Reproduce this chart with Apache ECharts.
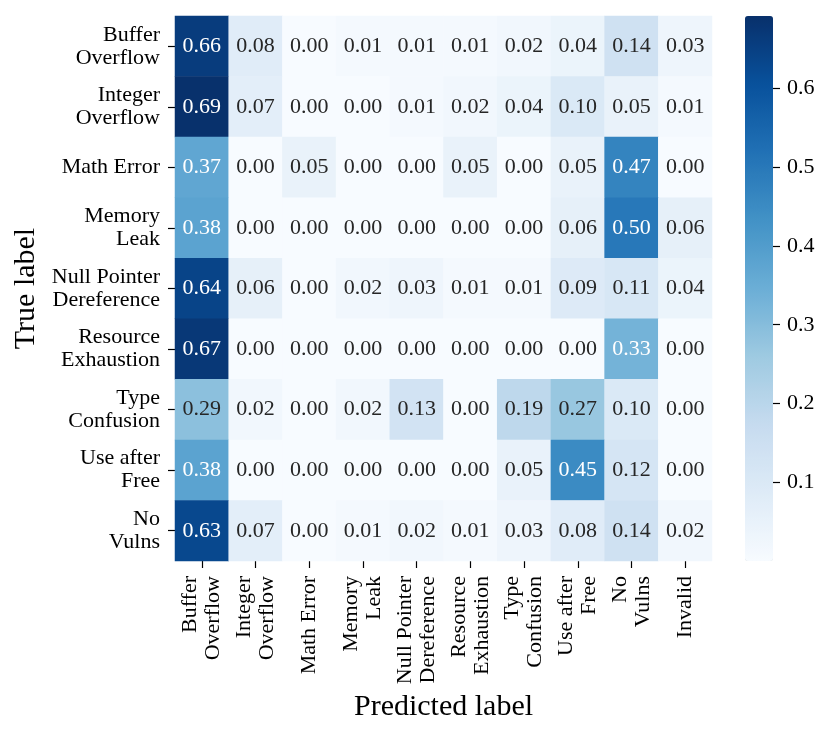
<!DOCTYPE html>
<html>
<head>
<meta charset="utf-8">
<script src="https://cdn.jsdelivr.net/npm/echarts@6/dist/echarts.min.js"></script>
<style>
html, body { margin: 0; padding: 0; background: #fff; }
#chart { width: 831px; height: 736px; }
</style>
</head>
<body>
<div id="chart"></div>
<script>
// confusion matrix: rows = true label, cols = predicted label
var trueLabels = ['Buffer\nOverflow', 'Integer\nOverflow', 'Math Error', 'Memory\nLeak',
    'Null Pointer\nDereference', 'Resource\nExhaustion', 'Type\nConfusion', 'Use after\nFree', 'No\nVulns'];
var predLabels = ['Buffer\nOverflow', 'Integer\nOverflow', 'Math Error', 'Memory\nLeak',
    'Null Pointer\nDereference', 'Resource\nExhaustion', 'Type\nConfusion', 'Use after\nFree', 'No\nVulns', 'Invalid'];

var rowBufferOverflow = [0.66, 0.08, 0.00, 0.01, 0.01, 0.01, 0.02, 0.04, 0.14, 0.03];
var rowIntegerOverflow = [0.69, 0.07, 0.00, 0.00, 0.01, 0.02, 0.04, 0.10, 0.05, 0.01];
var rowMathError = [0.37, 0.00, 0.05, 0.00, 0.00, 0.05, 0.00, 0.05, 0.47, 0.00];
var rowMemoryLeak = [0.38, 0.00, 0.00, 0.00, 0.00, 0.00, 0.00, 0.06, 0.50, 0.06];
var rowNullPointer = [0.64, 0.06, 0.00, 0.02, 0.03, 0.01, 0.01, 0.09, 0.11, 0.04];
var rowResource = [0.67, 0.00, 0.00, 0.00, 0.00, 0.00, 0.00, 0.00, 0.33, 0.00];
var rowTypeConfusion = [0.29, 0.02, 0.00, 0.02, 0.13, 0.00, 0.19, 0.27, 0.10, 0.00];
var rowUseAfterFree = [0.38, 0.00, 0.00, 0.00, 0.00, 0.00, 0.05, 0.45, 0.12, 0.00];
var rowNoVulns = [0.63, 0.07, 0.00, 0.01, 0.02, 0.01, 0.03, 0.08, 0.14, 0.02];

var matrix = [rowBufferOverflow, rowIntegerOverflow, rowMathError, rowMemoryLeak,
    rowNullPointer, rowResource, rowTypeConfusion, rowUseAfterFree, rowNoVulns];

var colorMin = 0;
var colorMax = 0.692;
var colorTicks = [0.1, 0.2, 0.3, 0.4, 0.5, 0.6];
// matplotlib "Blues"
var blues = ['#f7fbff', '#deebf7', '#c6dbef', '#9ecae1', '#6baed6', '#4292c6', '#2171b5', '#08519c', '#08306b'];

var font = 'Liberation Serif';

var cells = [];
matrix.forEach(function(row, i) {
    row.forEach(function(v, j) {
        cells.push({
            value: [j, i, v],
            label: { color: v > 0.3 ? '#ffffff' : '#262626' }
        });
    });
});

var chart = echarts.init(document.getElementById('chart'));
chart.setOption({
    animation: false,
    textStyle: { fontFamily: font },
    grid: [
        { left: 175, top: 16, width: 537, height: 545 },
        { left: 745, top: 16, width: 28, height: 545 }
    ],
    xAxis: [{
        gridIndex: 0,
        type: 'category',
        data: predLabels,
        position: 'bottom',
        axisLine: { show: false },
        axisTick: { show: true, alignWithLabel: true, length: 7, lineStyle: { color: '#000', width: 1.2 } },
        axisLabel: { rotate: 90, margin: 15, fontSize: 22, lineHeight: 23, color: '#000', fontFamily: font, interval: 0 },
        splitLine: { show: false },
        name: 'Predicted label',
        nameLocation: 'middle',
        nameGap: 126,
        nameTextStyle: { fontSize: 30, color: '#000', fontFamily: font }
    }, {
        gridIndex: 1,
        type: 'value',
        show: false,
        min: 0,
        max: 1
    }],
    yAxis: [{
        gridIndex: 0,
        type: 'category',
        data: trueLabels,
        inverse: true,
        axisLine: { show: false },
        axisTick: { show: true, alignWithLabel: true, length: 7, lineStyle: { color: '#000', width: 1.2 } },
        axisLabel: { margin: 15, fontSize: 22, lineHeight: 23, color: '#000', fontFamily: font, align: 'right', interval: 0 },
        splitLine: { show: false },
        name: 'True label',
        nameLocation: 'middle',
        nameRotate: 90,
        nameGap: 134,
        nameTextStyle: { fontSize: 30, color: '#000', fontFamily: font }
    }, {
        gridIndex: 1,
        type: 'value',
        position: 'right',
        min: colorMin,
        max: colorMax,
        axisLine: { show: false, onZero: false },
        axisTick: { show: true, length: 7, customValues: colorTicks, lineStyle: { color: '#000', width: 1.2 } },
        axisLabel: {
            margin: 14, fontSize: 22, color: '#000', fontFamily: font,
            customValues: colorTicks,
            formatter: function(v) { return v.toFixed(1); }
        },
        splitLine: { show: false }
    }],
    visualMap: {
        type: 'continuous',
        min: colorMin,
        max: colorMax,
        seriesIndex: 0,
        left: 745,
        top: 16,
        itemWidth: 28,
        itemHeight: 545,
        padding: 0,
        text: ['', ''],
        showLabel: false,
        calculable: false,
        hoverLink: false,
        inRange: { color: blues }
    },
    series: [{
        type: 'heatmap',
        xAxisIndex: 0,
        yAxisIndex: 0,
        data: cells,
        label: {
            show: true,
            fontSize: 22,
            fontFamily: font,
            formatter: function(p) { return p.value[2].toFixed(2); }
        },
        emphasis: { disabled: true }
    }]
});
</script>
</body>
</html>
